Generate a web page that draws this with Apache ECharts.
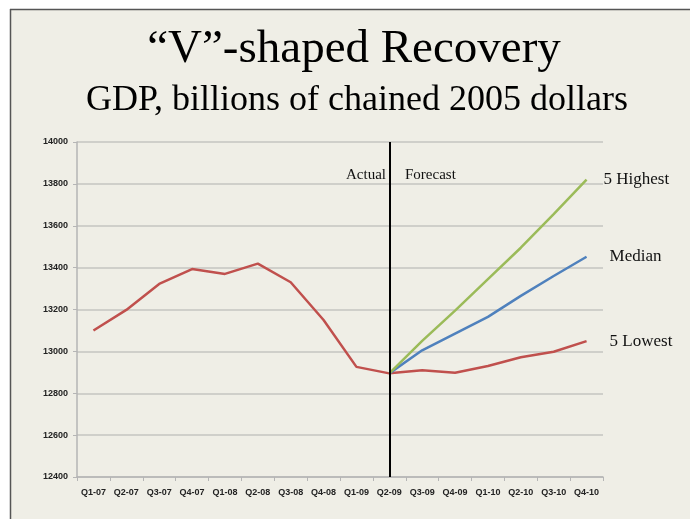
<!DOCTYPE html>
<html>
<head>
<meta charset="utf-8">
<script src="https://cdn.jsdelivr.net/npm/echarts@6/dist/echarts.min.js"></script>
<style>
  html, body { margin: 0; padding: 0; background: #fff; }
  #chart { width: 690px; height: 519px; }
</style>
</head>
<body>
<div id="chart"></div>
<script>
const categories = ['Q1-07', 'Q2-07', 'Q3-07', 'Q4-07', 'Q1-08', 'Q2-08', 'Q3-08', 'Q4-08',
  'Q1-09', 'Q2-09', 'Q3-09', 'Q4-09', 'Q1-10', 'Q2-10', 'Q3-10', 'Q4-10'];

// Q1-07 .. Q2-09
const actual = [13100, 13198, 13322, 13393, 13370, 13419, 13330, 13150, 12926, 12895];

// Q2-09 .. Q4-10
const highest = [12895, 13050, 13195, 13345, 13495, 13655, 13820];
const median = [12895, 13005, 13085, 13165, 13265, 13360, 13452];
const lowest = [12895, 12910, 12898, 12930, 12972, 12998, 13049];

const forecastStart = categories.indexOf('Q2-09');

function padForecast(vals) {
  return new Array(forecastStart).fill(null).concat(vals);
}

const RED = '#c0504d';
const GREEN = '#9bbb59';
const BLUE = '#4f81bd';
const serif = "'Liberation Serif', 'DejaVu Serif', serif";

function endLabel(text, dist) {
  return {
    show: true,
    formatter: text,
    distance: dist,
    fontFamily: serif,
    fontSize: 17,
    color: '#111'
  };
}

const chart = echarts.init(document.getElementById('chart'));

chart.setOption({
  backgroundColor: '#efeee6',
  animation: false,
  graphic: [
    // white margin and dark slide frame
    { type: 'rect', shape: { x: 0, y: 0, width: 690, height: 9 }, style: { fill: '#fff' }, silent: true },
    { type: 'rect', shape: { x: 0, y: 0, width: 10, height: 519 }, style: { fill: '#fff' }, silent: true },
    { type: 'line', shape: { x1: 10, y1: 9.5, x2: 690, y2: 9.5 }, style: { stroke: '#555', lineWidth: 1.5 }, silent: true },
    { type: 'line', shape: { x1: 10.5, y1: 9, x2: 10.5, y2: 519 }, style: { stroke: '#555', lineWidth: 1.5 }, silent: true },
    {
      type: 'text', x: 354, y: 73,
      style: { text: '\u201cV\u201d-shaped Recovery', fontFamily: serif, fontSize: 47, fill: '#000', align: 'center', verticalAlign: 'bottom' }
    },
    {
      type: 'text', x: 357, y: 119,
      style: { text: 'GDP, billions of chained 2005 dollars', fontFamily: serif, fontSize: 36, fill: '#000', align: 'center', verticalAlign: 'bottom' }
    },
    {
      type: 'text', x: 386, y: 175,
      style: { text: 'Actual', fontFamily: serif, fontSize: 15, fill: '#111', align: 'right', verticalAlign: 'middle' }
    },
    {
      type: 'text', x: 405, y: 175,
      style: { text: 'Forecast', fontFamily: serif, fontSize: 15, fill: '#111', align: 'left', verticalAlign: 'middle' }
    }
  ],
  grid: { left: 77, right: 87, top: 142, bottom: 42 },
  xAxis: {
    type: 'category',
    data: categories,
    boundaryGap: true,
    axisLine: { lineStyle: { color: '#b5b5b5', width: 1.5 } },
    axisTick: { show: true, length: 4, lineStyle: { color: '#b5b5b5' } },
    axisLabel: { margin: 11, fontFamily: "'Liberation Sans', sans-serif", fontWeight: 'bold', fontSize: 9, color: '#222' },
    splitLine: { show: false }
  },
  yAxis: {
    type: 'value',
    min: 12400,
    max: 14000,
    interval: 200,
    axisLine: { show: true, lineStyle: { color: '#b5b5b5', width: 1.5 } },
    axisTick: { show: true, length: 4, lineStyle: { color: '#b5b5b5' } },
    axisLabel: {
      margin: 9,
      formatter: (v) => String(v),
      fontFamily: "'Liberation Sans', sans-serif",
      fontWeight: 'bold',
      fontSize: 9,
      color: '#222'
    },
    splitLine: { lineStyle: { color: '#c4c4c0', width: 1.5 } }
  },
  series: [
    {
      name: 'Actual',
      type: 'line',
      data: actual,
      symbol: 'none',
      lineStyle: { color: RED, width: 2.5 },
      z: 3,
      markLine: {
        silent: true,
        symbol: 'none',
        label: { show: false },
        lineStyle: { color: '#000', width: 2, type: 'solid' },
        data: [{ xAxis: 'Q2-09' }],
        z: 5
      }
    },
    {
      name: '5 Lowest',
      type: 'line',
      data: padForecast(lowest),
      symbol: 'none',
      lineStyle: { color: RED, width: 2.5 },
      endLabel: endLabel('5 Lowest', 23)
    },
    {
      name: 'Median',
      type: 'line',
      data: padForecast(median),
      symbol: 'none',
      lineStyle: { color: BLUE, width: 2.5 },
      endLabel: endLabel('Median', 23)
    },
    {
      name: '5 Highest',
      type: 'line',
      data: padForecast(highest),
      symbol: 'none',
      lineStyle: { color: GREEN, width: 2.5 },
      endLabel: endLabel('5 Highest', 17)
    }
  ]
});
</script>
</body>
</html>
